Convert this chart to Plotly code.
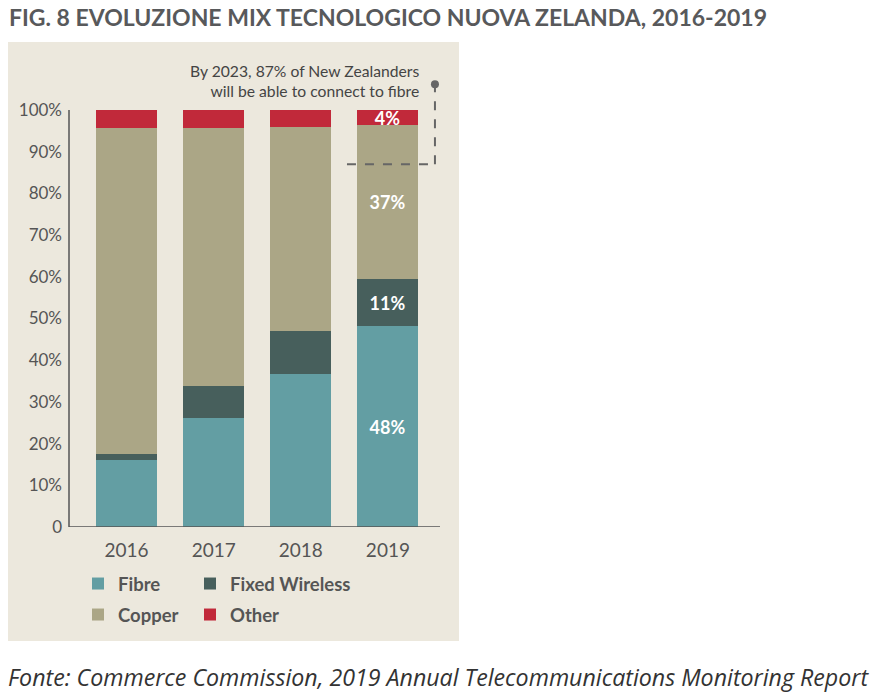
import plotly.graph_objects as go

# valori (quota % per tecnologia)
years = [2016, 2017, 2018, 2019]
fibre = [16.0, 26.2, 36.8, 48.3]
fixed_wireless = [1.5, 7.5, 10.2, 11.2]
copper = [78.2, 62.0, 49.0, 37.0]
other = [4.3, 4.3, 4.0, 3.5]

# etichette solo sul 2019
fibre_lbl = ['', '', '', '48%']
fw_lbl = ['', '', '', '11%']
copper_lbl = ['', '', '', '37%']
other_lbl = ['', '', '', '4%']

y_ticks = [0, 10, 20, 30, 40, 50, 60, 70, 80, 90, 100]
y_tick_text = ['0', '10%', '20%', '30%', '40%', '50%', '60%', '70%', '80%', '90%', '100%']

target_2023 = 87

grey = '#555555'
font_main = 'Lato'

# pixel del riferimento -> coordinate paper (area grafico 69..440 x, 70..527 y)
def px(x):
    return (x - 69) / 371


def py(y):
    return (527 - y) / 457


fig = go.Figure()

series = [
    ('Fibre', fibre, fibre_lbl, '#639ea3', 'legend'),
    ('Fixed Wireless', fixed_wireless, fw_lbl, '#475f5c', 'legend2'),
    ('Copper', copper, copper_lbl, '#aba686', 'legend3'),
    ('Other', other, other_lbl, '#c1293a', 'legend4'),
]
for name, vals, lbl, col, leg in series:
    fig.add_trace(go.Bar(
        x=years, y=vals, name=name, marker_color=col, marker_line_width=0,
        width=0.7, text=lbl, textposition='inside', insidetextanchor='middle',
        constraintext='none',
        textfont=dict(family=font_main, size=18, color='white', weight='bold'),
        legend=leg, hoverinfo='skip',
    ))

# sfondo del pannello
fig.add_shape(type='rect', xref='paper', yref='paper', x0=px(6), x1=px(459),
              y0=py(641), y1=py(42), fillcolor='#ece8dd', line_width=0, layer='below')
# assi
fig.add_shape(type='line', xref='paper', yref='y', x0=0, x1=0, y0=0, y1=100,
              line=dict(color=grey, width=1.5))
fig.add_shape(type='line', xref='paper', yref='y', x0=0, x1=1, y0=0, y1=0,
              line=dict(color=grey, width=1.5))

# linea tratteggiata all'87%
fig.add_shape(type='line', x0=2018.53, x1=2019.54, y0=target_2023, y1=target_2023,
              line=dict(color='#666666', width=2, dash='dash'))
fig.add_shape(type='line', x0=2019.54, x1=2019.54, y0=target_2023, y1=106.2,
              line=dict(color='#666666', width=2, dash='dash'))
fig.add_trace(go.Scatter(x=[2019.54], y=[106.2], mode='markers',
                         marker=dict(color='#666666', size=8), showlegend=False,
                         hoverinfo='skip', cliponaxis=False))

fig.add_annotation(x=px(421), y=py(81), xref='paper', yref='paper', xanchor='right',
                   yanchor='middle', align='right', showarrow=False,
                   text='By 2023, 87% of New Zealanders<br>will be able to connect to fibre',
                   font=dict(family=font_main, size=15.7, color='#444444'))

fig.add_annotation(x=px(8), y=py(17), xref='paper', yref='paper', xanchor='left',
                   yanchor='middle', showarrow=False, borderpad=0,
                   text='FIG. 8 EVOLUZIONE MIX TECNOLOGICO NUOVA ZELANDA, 2016-2019',
                   font=dict(family=font_main, size=23, color='#58595b', weight='bold'))

fig.add_annotation(x=px(6), y=py(677), xref='paper', yref='paper',
                   xanchor='left', yanchor='middle', showarrow=False,
                   text='<i>Fonte: Commerce Commission, 2019 Annual Telecommunications Monitoring Report</i>',
                   font=dict(family='Open Sans', size=23.2, color='#333333'))

legend_common = dict(orientation='h', xanchor='left', yanchor='middle',
                     bgcolor='rgba(0,0,0,0)',
                     font=dict(family=font_main, size=18.5, color=grey, weight='bold'),
                     itemclick=False, itemdoubleclick=False)

# la pagina ha 8px di margine: la figura si riduce di 8px e tutto si sposta
fig.update_layout(
    width=879, height=687,
    margin=dict(l=61, r=447, t=62, b=168),
    paper_bgcolor='white', plot_bgcolor='rgba(0,0,0,0)',
    barmode='stack', bargap=0,
    xaxis=dict(range=[2015.339, 2019.598], tickvals=years, ticktext=[str(y) for y in years],
               showgrid=False, zeroline=False, showline=False, ticks='',
               ticklabelstandoff=10,
               tickfont=dict(family=font_main, size=19, color=grey)),
    yaxis=dict(range=[0, 109.6], tickvals=y_ticks, ticktext=y_tick_text,
               showgrid=False, zeroline=False, showline=False, ticks='',
               ticklabelstandoff=6,
               tickfont=dict(family=font_main, size=17, color=grey)),
    legend=dict(x=px(78), y=py(584), **legend_common),
    legend2=dict(x=px(190), y=py(584), **legend_common),
    legend3=dict(x=px(78), y=py(615), **legend_common),
    legend4=dict(x=px(190), y=py(615), **legend_common),
    showlegend=True,
)

fig.write_html('out.html')
